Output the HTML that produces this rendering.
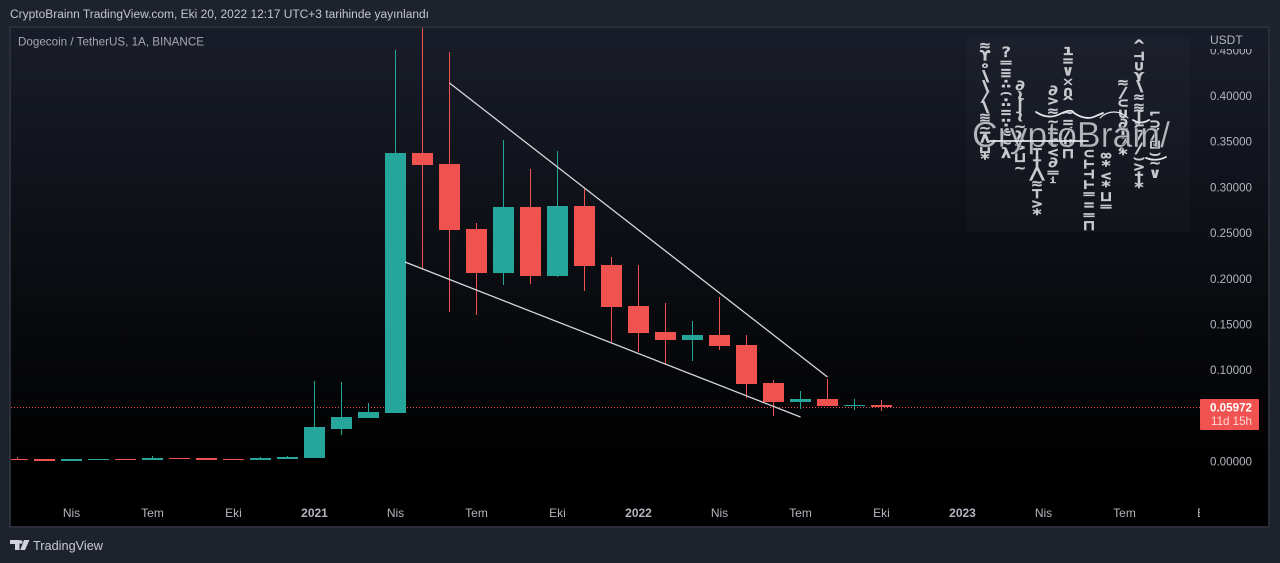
<!DOCTYPE html>
<html lang="tr">
<head>
<meta charset="utf-8">
<title>DOGE/USDT</title>
<style>
html,body{margin:0;padding:0;width:1280px;height:563px;overflow:hidden;background:#1e222d;}
#root{position:relative;width:1280px;height:563px;overflow:hidden;font-family:"Liberation Sans",sans-serif;}
#chart{position:absolute;left:0;top:0;}
.wm-col{position:absolute;writing-mode:vertical-rl;text-orientation:upright;font-family:"DejaVu Sans Mono",monospace;font-weight:bold;font-size:14px;line-height:16px;letter-spacing:-5.7px;color:#c8cace;white-space:nowrap;width:16px;transform:scaleX(1.25);-webkit-text-stroke:0.3px #c8cace;}
</style>
</head>
<body>
<div id="root">
<svg id="chart" width="1280" height="563" viewBox="0 0 1280 563" xmlns="http://www.w3.org/2000/svg">
  <defs>
    <linearGradient id="paneBg" x1="0" y1="0" x2="0" y2="1">
      <stop offset="0" stop-color="#191d29"/>
      <stop offset="0.88" stop-color="#000000"/>
      <stop offset="1" stop-color="#000000"/>
    </linearGradient>
    <clipPath id="plotClip"><rect x="11" y="28" width="1189" height="499"/></clipPath>
    <clipPath id="axisClip"><rect x="1200" y="49" width="69" height="478"/></clipPath>
    <clipPath id="timeClip"><rect x="11" y="500" width="1189" height="27"/></clipPath>
  </defs>
  <rect x="10" y="27" width="1259" height="500" fill="url(#paneBg)" stroke="#2a2e39" stroke-width="2"/>
  <text x="10" y="18" font-size="11.5" fill="#c3c6cd" textLength="419" lengthAdjust="spacingAndGlyphs" font-family="Liberation Sans, sans-serif">CryptoBrainn TradingView.com, Eki 20, 2022 12:17 UTC+3 tarihinde yayınlandı</text>
  <text x="18" y="45.500" font-size="12" fill="#a6a9b2" textLength="186" lengthAdjust="spacingAndGlyphs" font-family="Liberation Sans, sans-serif">Dogecoin / TetherUS, 1A, BINANCE</text>
  <rect x="967" y="37" width="223" height="195" fill="#ffffff" opacity="0.02"/>
  <g id="gridless-plot" clip-path="url(#plotClip)">
    <g id="lastLine"></g>
    <g id="candles"></g>
    <g id="trends"></g>
  </g>
  <g id="priceAxis" clip-path="url(#axisClip)"></g>
  <text x="1210" y="44" font-size="12" fill="#b2b5be" font-family="Liberation Sans, sans-serif">USDT</text>
  <g id="timeAxis" clip-path="url(#timeClip)"></g>
  <g id="lastBadge"></g>
  <g>
    <path d="M10 540h9.500v10h-4.500v-6h-5z" fill="#d1d4dc"/>
    <circle cx="20.800" cy="542" r="1.800" fill="#d1d4dc"/>
    <path d="M24 540h5.500l-4.500 10h-4.800z" fill="#d1d4dc"/>
    <text x="33" y="550" font-size="13" fill="#c8cbd3" textLength="70" lengthAdjust="spacingAndGlyphs" font-family="Liberation Sans, sans-serif">TradingView</text>
  </g>
</svg>

<div>
  <div class="wm-col" style="left:977px;top:38px">≈ϒ∘∖∖/∖≋~⊼⊔*</div>
  <div class="wm-col" style="left:998px;top:45px">?═≡∴⌢∴=∵≈~λ</div>
  <div class="wm-col" style="left:1012px;top:78px">∂≀∫≀~λ>⊔~</div>
  <div class="wm-col" style="left:1029px;top:145px">⊤†⋀≈⊤>*</div>
  <div class="wm-col" style="left:1045px;top:83px">∂>≈~=⊂<∂═ⁱ</div>
  <div class="wm-col" style="left:1060px;top:43px">ı=∨✕∩^~=/∪⊓</div>
  <div class="wm-col" style="left:1081px;top:146px">⊂⊢⊣⊢═=═⊓</div>
  <div class="wm-col" style="left:1098px;top:148px">∞*<*⊔═</div>
  <div class="wm-col" style="left:1115px;top:75px">≈/⊂∪∂T/*</div>
  <div class="wm-col" style="left:1131px;top:38px">^⊣∪⋎∖≈≋∫⊂//⌣>†*</div>
  <div class="wm-col" style="left:1147px;top:106px">⌐⊃/⊡⌣~∨</div>
</div>

<svg width="1280" height="563" viewBox="0 0 1280 563" xmlns="http://www.w3.org/2000/svg" style="position:absolute;left:0;top:0;pointer-events:none">
  <text x="972" y="147" font-size="36" fill="#b4b6bb" stroke="#1b1f2a" stroke-width="0.4" textLength="198" lengthAdjust="spacingAndGlyphs" font-family="Liberation Sans, sans-serif">CryptoBrain/</text>
  <g fill="none" stroke="#e4e5e8" stroke-width="1.800" stroke-linecap="round">
    <path d="M1036 112q12 8 24 2t14 -1q12 8 22 3l7 -3"/>
    <path d="M990 141h98"/>
    <path d="M1100 118q6 -6 14 -6t14 6" stroke-width="1.200"/>
    <path d="M1133 120q8 5 16 0"/>
    <path d="M1146 158q10 4 20 -1"/>
  </g>
</svg>
</div>

<script>
var opens  = [.0027,.0027,.0005,.0016,.0027,.0016,.0038,.0038,.0027,.0016,.0027,.0038,.0356,.0476,.0531,.3376,.3256,.2544,.2063,.2785,.2030,.2796,.2151,.1702,.1417,.1330,.1384,.1275,.0859,.0651,.0684,.0607,.0618];
var highs  = [.0049,.0027,.0027,.0027,.0027,.0060,.0038,.0038,.0027,.0049,.0060,.0881,.0870,.0640,.4503,.7376,.4482,.2610,.3519,.3201,.3398,.2982,.2238,.2151,.1735,.1538,.1800,.1384,.0892,.0772,.0903,.0684,.0673];
var lows   = [.0016,.0005,.0005,.0016,.0016,.0016,.0027,.0016,.0016,.0016,.0027,.0038,.0290,.0476,.0531,.2107,.1636,.1603,.1932,.1943,.2019,.1866,.1308,.1198,.1067,.1100,.1220,.0695,.0498,.0575,.0607,.0564,.0553];
var closes = [.0016,.0005,.0027,.0027,.0016,.0038,.0027,.0016,.0016,.0038,.0049,.0378,.0487,.0542,.3376,.3245,.2534,.2063,.2785,.2030,.2796,.2140,.1691,.1406,.1330,.1384,.1264,.0848,.0651,.0684,.0607,.0618,.05972];
var priceTicks = [0.45,0.40,0.35,0.30,0.25,0.20,0.15,0.10,0.00];
var timeTickIndex = [2,5,8,11,14,17,20,23,26,29,32,35,38,41,44];
var timeTickLabel = ["Nis","Tem","Eki","2021","Nis","Tem","Eki","2022","Nis","Tem","Eki","2023","Nis","Tem","Eki"];
var upperTrendIndex = [16,30];
var upperTrendPrice = [.4142,.0925];
var lowerTrendIndex = [14.35,29];
var lowerTrendPrice = [.2183,.0487];
var lastPrice = 0.05972;
var countdownLabel = "11d 15h";

var SVGNS = "http://www.w3.org/2000/svg";
function xAt(i){ return 17.5 + 27 * i; }
function yAt(p){ return 461.5 - 913.75 * p; }
function make(tag, attrs, parent){
  var el = document.createElementNS(SVGNS, tag);
  for (var k in attrs) el.setAttribute(k, attrs[k]);
  parent.appendChild(el);
  return el;
}
var candleLayer = document.getElementById("candles");
opens.forEach(function(o, i){
  var c = closes[i], up = c >= o, col = up ? "#26a69a" : "#f0524f";
  var cx = xAt(i);
  var top = Math.round(yAt(Math.max(o, c))), bot = Math.round(yAt(Math.min(o, c)));
  var g = make("g", {}, candleLayer);
  
  
  var w = make("rect", {x: cx - 0.5, y: Math.round(yAt(highs[i])), width: 1, height: Math.max(1, Math.round(yAt(lows[i])) - Math.round(yAt(highs[i]))), fill: col}, g);
  
  
  var b = make("rect", {x: cx - 10.5, y: top, width: 21, height: Math.max(1, bot - top), fill: col}, g);
  
  
});

var lastLayer = document.getElementById("lastLine");
var ll = make("line", {x1: 11, x2: 1200, y1: Math.round(yAt(lastPrice)) + 0.5, y2: Math.round(yAt(lastPrice)) + 0.5, stroke: "#f0524f", "stroke-width": 1, "stroke-dasharray": "1 2"}, lastLayer);



var trendLayer = document.getElementById("trends");
var t1 = make("line", {x1: xAt(upperTrendIndex[0]), y1: yAt(upperTrendPrice[0]), x2: xAt(upperTrendIndex[1]), y2: yAt(upperTrendPrice[1]), stroke: "#d6d8dc", "stroke-width": 1.3}, trendLayer);


var t2 = make("line", {x1: xAt(lowerTrendIndex[0]), y1: yAt(lowerTrendPrice[0]), x2: xAt(lowerTrendIndex[1]), y2: yAt(lowerTrendPrice[1]), stroke: "#d6d8dc", "stroke-width": 1.3}, trendLayer);



var axisLayer = document.getElementById("priceAxis");
priceTicks.forEach(function(p){
  var t = make("text", {x: 1210, y: yAt(p) + 4, "font-size": 12, fill: "#b2b5be", textLength: 42, lengthAdjust: "spacingAndGlyphs", "font-family": "Liberation Sans, sans-serif"}, axisLayer);
  t.textContent = p.toFixed(5);
  
  
});

var timeLayer = document.getElementById("timeAxis");
timeTickIndex.forEach(function(ix, n){
  var lab = timeTickLabel[n];
  var isYear = /^\d/.test(lab);
  var t = make("text", {x: xAt(ix), y: 517, "font-size": 12, fill: "#b2b5be", "text-anchor": "middle", "font-weight": isYear ? "bold" : "normal", "font-family": "Liberation Sans, sans-serif"}, timeLayer);
  t.textContent = lab;
  
  
});

var badge = document.getElementById("lastBadge");
var by = Math.round(yAt(lastPrice)) - 8;
var br = make("rect", {x: 1200, y: by, width: 59, height: 31, rx: 1, fill: "#f0524f"}, badge);


var bt1 = make("text", {x: 1252, y: by + 12.5, "font-size": 12, "font-weight": "bold", fill: "#ffffff", "text-anchor": "end", textLength: 42, lengthAdjust: "spacingAndGlyphs", "font-family": "Liberation Sans, sans-serif"}, badge);
bt1.textContent = lastPrice.toFixed(5);


var bt2 = make("text", {x: 1252, y: by + 26, "font-size": 12, fill: "#fbdad9", "text-anchor": "end", textLength: 41, lengthAdjust: "spacingAndGlyphs", "font-family": "Liberation Sans, sans-serif"}, badge);
bt2.textContent = countdownLabel;


</script>
</body>
</html>
